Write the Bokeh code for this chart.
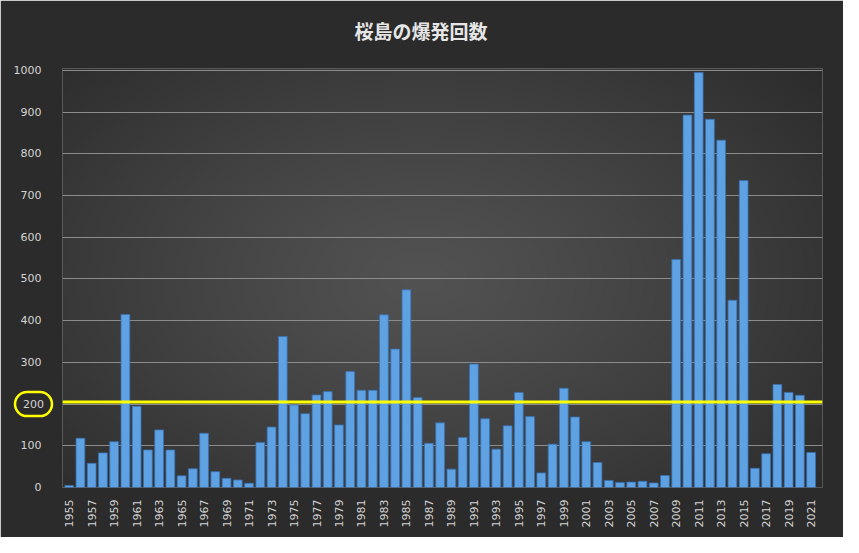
import math
import numpy as np
from bokeh.plotting import figure
from bokeh.models import FixedTicker, Span, Label, Range1d
from bokeh.embed import file_html
from bokeh.resources import INLINE

title_text = "桜島の爆発回数"
years = list(range(1955, 2022))
counts = [5, 118, 58, 83, 110, 415, 195, 90, 138, 90,
          28, 45, 130, 38, 22, 18, 10, 108, 145, 362,
          198, 177, 222, 230, 150, 278, 233, 233, 414, 332,
          474, 216, 106, 155, 44, 120, 296, 165, 92, 148,
          228, 170, 35, 104, 238, 169, 110, 60, 17, 12,
          13, 15, 11, 29, 547, 893, 995, 883, 833, 449,
          736, 46, 81, 247, 228, 221, 84]
threshold = 205
y_ticks = list(range(0, 1001, 100))
x_ticks = list(range(1955, 2022, 2))
circled_tick = 200

W, H = 843, 537
fl, fr, ft, fb = 62, 21, 68, 50
fw = W - fl - fr
fh = H - ft - fb
first_px, last_px = 68.7, 810.6
px_per_year = (last_px - first_px) / (years[-1] - years[0])
x_start = years[0] - (first_px - fl) / px_per_year
x_end = x_start + fw / px_per_year
y_end = 1000 + 2 / (fh / 1000.0)

p = figure(width=W, height=H, output_backend="svg", toolbar_location=None,
           x_range=Range1d(x_start, x_end), y_range=Range1d(0, y_end),
           min_border_left=fl, min_border_right=fr, min_border_top=ft,
           min_border_bottom=fb, title=title_text)
p.background_fill_color = "#3a3a3a"
p.border_fill_color = "#2b2b2b"
p.outline_line_color = None

# radial background gradient over the frame
gw, gh = fw // 2, fh // 2
gx = (np.arange(gw) * 2 + fl - W / 2) / (W / 2)
gy = ((fh - np.arange(gh) * 2) + ft - H * 0.52) / (H / 2)
dx, dy = np.meshgrid(gx, gy)
d = np.clip(np.sqrt(dx ** 2 + dy ** 2) / math.sqrt(2), 0, 1)
lum = (82 - 46 * d ** 1.2).astype(np.uint32)
img = (255 << 24) | (lum << 16) | (lum << 8) | lum
p.image_rgba(image=[img.astype(np.uint32)], x=x_start, y=0,
             dw=x_end - x_start, dh=y_end, level="image")

p.title.text_font = "Noto Sans CJK JP"
p.title.text_font_size = "19px"
p.title.text_font_style = "bold"
p.title.text_color = "#e6e6e6"
p.title.align = "left"
p.title.offset = 292
p.title.standoff = 2

p.vbar(x=years, top=counts, width=0.78, fill_color="#5ea2e4",
       line_color="#3a70b0", line_width=0.8)

p.add_layout(Span(location=threshold, dimension="width",
                  line_color="#ffff00", line_width=3))

p.xgrid.grid_line_color = None
p.ygrid.grid_line_color = "#8c8c8c"
p.ygrid.grid_line_width = 1.2
p.ygrid.ticker = FixedTicker(ticks=y_ticks)

for ax in (p.xaxis, p.yaxis):
    ax.axis_line_color = None
    ax.major_tick_line_color = None
    ax.minor_tick_line_color = None
    ax.major_label_text_color = "#d4d4d4"
    ax.major_label_text_font = "DejaVu Sans"
    ax.major_label_text_font_size = "11px"

p.xaxis.ticker = FixedTicker(ticks=x_ticks)
p.xaxis.major_label_orientation = math.pi / 2
p.xaxis.major_label_standoff = 6
p.yaxis.ticker = FixedTicker(ticks=y_ticks)
p.yaxis.major_label_standoff = 15
p.yaxis.major_label_overrides = {circled_tick: " "}

p.add_layout(Label(x=33, y=circled_tick, x_units="canvas", y_units="data",
                   text=str(circled_tick), text_align="center",
                   text_baseline="middle", text_color="#d4d4d4",
                   text_font="DejaVu Sans", text_font_size="11px",
                   padding=(8, 8), border_radius=16,
                   border_line_color="#ffff00", border_line_width=2.5),
             "above")

open("out.html", "w").write(file_html(p, INLINE))
